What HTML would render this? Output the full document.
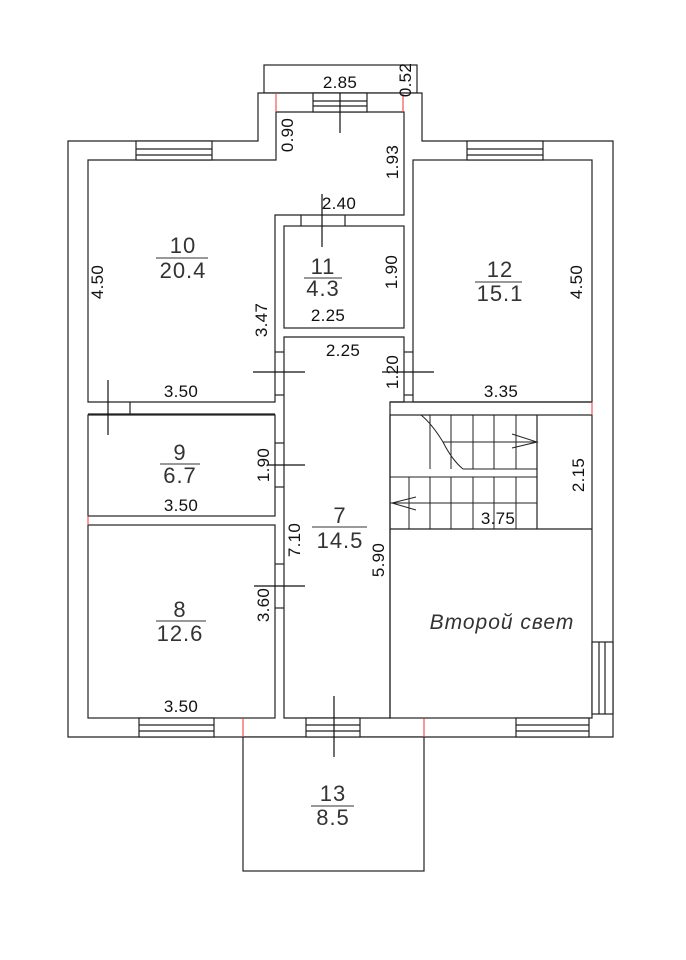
<!DOCTYPE html>
<html><head><meta charset="utf-8"><style>
html,body{margin:0;padding:0;background:#fff;}
svg{display:block;}
.b{font-family:"Liberation Sans",sans-serif;font-size:17px;fill:#111;text-anchor:middle;letter-spacing:0.3px;}
.r{font-family:"Liberation Sans",sans-serif;font-size:22px;fill:#333;text-anchor:middle;letter-spacing:1px;}
</style></head><body>
<svg width="686" height="960" viewBox="0 0 686 960" xmlns="http://www.w3.org/2000/svg">
<g fill="none" stroke="#222" stroke-width="1.2">
<rect x="264" y="65" width="153" height="28"/>
<polygon points="68,141 258,141 258,93 422,93 422,141 613,141 613,737 68,737" fill="#fff"/>
<polygon points="88,160 276,160 276,112 404,112 404,215 275,215 275,402 88,402"/>
<rect x="284" y="226" width="120" height="102"/>
<rect x="413" y="160" width="179" height="242"/>
<polyline points="88,414 275,414"/>
<line x1="130" y1="402" x2="130" y2="414"/>
<rect x="88" y="415" width="187" height="101"/>
<rect x="88" y="525" width="187" height="193"/>
<polygon points="284,337 404,337 404,402 390,402 390,718 284,718"/>
<rect x="390" y="415" width="202" height="303"/>
<line x1="390" y1="529" x2="592" y2="529"/>
<line x1="537" y1="415" x2="537" y2="529"/>
<rect x="243" y="737" width="181" height="134" fill="#fff"/>
<rect x="313" y="93" width="54" height="19" fill="#fff"/><line x1="313" y1="101" x2="367" y2="101"/><line x1="313" y1="106" x2="367" y2="106"/>
<rect x="136" y="141" width="76" height="19" fill="#fff"/><line x1="136" y1="149" x2="212" y2="149"/><line x1="136" y1="155" x2="212" y2="155"/>
<rect x="467" y="141" width="76" height="19" fill="#fff"/><line x1="467" y1="149" x2="543" y2="149"/><line x1="467" y1="155" x2="543" y2="155"/>
<rect x="139" y="718" width="75" height="19" fill="#fff"/><line x1="139" y1="725" x2="214" y2="725"/><line x1="139" y1="731" x2="214" y2="731"/>
<rect x="306" y="718" width="54" height="19" fill="#fff"/><line x1="306" y1="725" x2="360" y2="725"/><line x1="306" y1="731" x2="360" y2="731"/>
<rect x="516" y="718" width="73" height="19" fill="#fff"/><line x1="516" y1="725" x2="589" y2="725"/><line x1="516" y1="731" x2="589" y2="731"/>
<rect x="592" y="642" width="21" height="72" fill="#fff"/><line x1="599" y1="642" x2="599" y2="714"/><line x1="605" y1="642" x2="605" y2="714"/>
<line x1="301" y1="215" x2="301" y2="226"/><line x1="345" y1="215" x2="345" y2="226"/>
<line x1="275" y1="352" x2="284" y2="352"/><line x1="275" y1="395" x2="284" y2="395"/>
<line x1="404" y1="352" x2="413" y2="352"/><line x1="404" y1="395" x2="413" y2="395"/>
<line x1="275" y1="443" x2="284" y2="443"/><line x1="275" y1="487" x2="284" y2="487"/>
<line x1="275" y1="564" x2="284" y2="564"/><line x1="275" y1="608" x2="284" y2="608"/>
<line x1="390" y1="402" x2="592" y2="402"/>
<g stroke-width="1">
<line x1="430" y1="415" x2="430" y2="469"/><line x1="451" y1="415" x2="451" y2="469"/><line x1="473" y1="415" x2="473" y2="469"/><line x1="494" y1="415" x2="494" y2="469"/><line x1="516" y1="415" x2="516" y2="469"/>
<line x1="443" y1="442" x2="537" y2="442"/><line x1="463" y1="469" x2="537" y2="469"/>
<line x1="390" y1="477" x2="537" y2="477"/><line x1="390" y1="503" x2="537" y2="503"/>
<line x1="409" y1="477" x2="409" y2="529"/><line x1="430" y1="477" x2="430" y2="529"/><line x1="451" y1="477" x2="451" y2="529"/><line x1="473" y1="477" x2="473" y2="529"/><line x1="494" y1="477" x2="494" y2="529"/><line x1="516" y1="477" x2="516" y2="529"/>
<path d="M421,415 Q432,424 443,442 Q452,460 463,469"/>
<polyline points="512,434 537,442 512,448"/>
<polyline points="416,497 392,503 416,510"/>
</g>
<g stroke="#111">
<line x1="340" y1="93" x2="340" y2="133"/>
<line x1="322" y1="194" x2="322" y2="247"/>
<line x1="253" y1="372" x2="305" y2="372"/>
<line x1="382" y1="372" x2="434" y2="372"/>
<line x1="108" y1="380" x2="108" y2="435"/>
<line x1="268" y1="465" x2="305" y2="465"/>
<line x1="254" y1="586" x2="305" y2="586"/>
<line x1="334" y1="696" x2="334" y2="757"/>
</g>
</g>
<g stroke="#e33" stroke-width="1">
<line x1="276" y1="94" x2="276" y2="112"/><line x1="403" y1="94" x2="403" y2="112"/>
<line x1="243" y1="718" x2="243" y2="737"/><line x1="424" y1="718" x2="424" y2="737"/>
<line x1="88" y1="516" x2="88" y2="525"/><line x1="592" y1="402" x2="592" y2="415"/>
</g>
<g class="r">
<text x="183" y="253">10</text><line x1="156" y1="258" x2="208" y2="258" stroke="#333"/><text x="183" y="278">20.4</text>
<text x="323" y="274">11</text><line x1="304" y1="278" x2="342" y2="278" stroke="#333"/><text x="323" y="296">4.3</text>
<text x="500" y="277">12</text><line x1="475" y1="282" x2="522" y2="282" stroke="#333"/><text x="500" y="301">15.1</text>
<text x="180" y="460">9</text><line x1="160" y1="464" x2="200" y2="464" stroke="#333"/><text x="180" y="483">6.7</text>
<text x="340" y="523">7</text><line x1="312" y1="527" x2="367" y2="527" stroke="#333"/><text x="340" y="548">14.5</text>
<text x="180" y="617">8</text><line x1="156" y1="621" x2="206" y2="621" stroke="#333"/><text x="180" y="641">12.6</text>
<text x="333" y="801">13</text><line x1="311" y1="806" x2="354" y2="806" stroke="#333"/><text x="333" y="825">8.5</text>
</g>
<text x="502" y="629" style="font-family:'Liberation Sans',sans-serif;font-size:21px;font-style:italic;fill:#333;text-anchor:middle;letter-spacing:1px">Второй свет</text>
<g class="b">
<text x="340" y="88">2.85</text>
<text x="339" y="209">2.40</text>
<text x="328" y="321">2.25</text>
<text x="343" y="356">2.25</text>
<text x="181" y="397">3.50</text>
<text x="501" y="397">3.35</text>
<text x="181" y="511">3.50</text>
<text x="498" y="524">3.75</text>
<text x="181" y="712">3.50</text>
<text transform="translate(411,80) rotate(-90)">0.52</text>
<text transform="translate(293,135) rotate(-90)">0.90</text>
<text transform="translate(398,162) rotate(-90)">1.93</text>
<text transform="translate(103,282) rotate(-90)">4.50</text>
<text transform="translate(397,272) rotate(-90)">1.90</text>
<text transform="translate(582,282) rotate(-90)">4.50</text>
<text transform="translate(267,320) rotate(-90)">3.47</text>
<text transform="translate(398,372) rotate(-90)">1.20</text>
<text transform="translate(269,465) rotate(-90)">1.90</text>
<text transform="translate(300,540) rotate(-90)">7.10</text>
<text transform="translate(384,560) rotate(-90)">5.90</text>
<text transform="translate(584,475) rotate(-90)">2.15</text>
<text transform="translate(269,605) rotate(-90)">3.60</text>
</g>
</svg>
</body></html>
